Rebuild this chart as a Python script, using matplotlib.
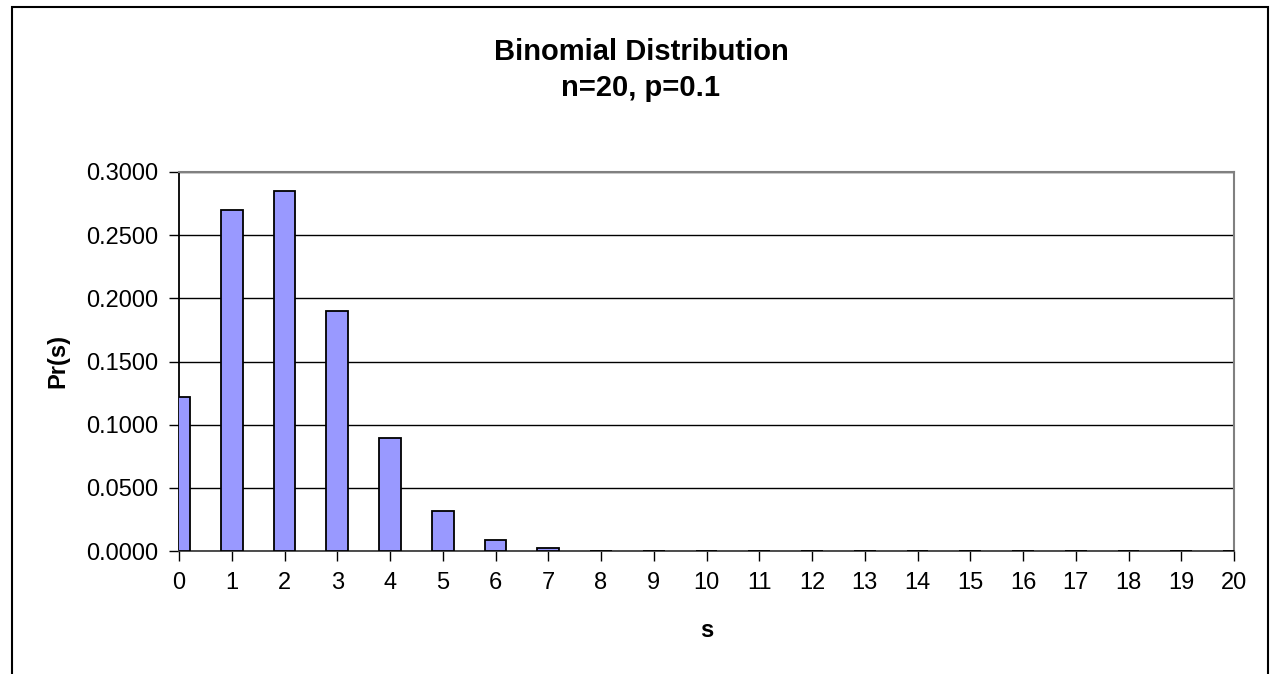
import matplotlib
matplotlib.use("Agg")
import matplotlib.pyplot as plt
import matplotlib.patches as mpatches

plt.rcParams["font.family"] = ["Liberation Sans", "DejaVu Sans"]

# Pr(s) for s = 0..20
s_values = list(range(21))
probs = [0.1216, 0.2702, 0.2852, 0.1901, 0.0898, 0.0319, 0.0089, 0.0020,
         0.0000, 0.0000, 0.0000, 0.0000, 0.0000, 0.0000, 0.0000, 0.0000,
         0.0000, 0.0000, 0.0000, 0.0000, 0.0000]
y_ticks = [0.0, 0.05, 0.10, 0.15, 0.20, 0.25, 0.30]

BAR_COLOR = "#9999FF"

fig = plt.figure(figsize=(12.71, 6.74), dpi=100)
fig.patch.set_facecolor("white")

# outer chart frame (bottom edge runs off the image)
frame = mpatches.Rectangle((12 / 1271, -0.05), (1268 - 12) / 1271, 1.05 - 7 / 674,
                           transform=fig.transFigure, fill=False,
                           edgecolor="black", linewidth=1.5)
fig.patches.append(frame)

ax = fig.add_axes([179 / 1271, 1 - 551 / 674, (1234 - 179) / 1271, (551 - 172) / 674])

ax.bar(s_values, probs, width=0.41, color=BAR_COLOR, edgecolor="black",
       linewidth=1.3, zorder=3, clip_on=True)

ax.set_xlim(0, 20)
ax.set_ylim(0, 0.3)
ax.set_yticks(y_ticks)
ax.set_yticklabels([f"{v:.4f}" for v in y_ticks])
ax.set_xticks(s_values)
ax.set_xticklabels([str(s) for s in s_values])

ax.yaxis.grid(True, color="black", linewidth=1.0, zorder=0)
ax.set_axisbelow(True)

ax.tick_params(axis="both", direction="out", length=7, width=1.0,
               labelsize=17, colors="black", pad=8)

for side in ("top", "right"):
    ax.spines[side].set_color("#808080")
    ax.spines[side].set_linewidth(1.5)
ax.spines["left"].set_color("black")
ax.spines["bottom"].set_color("#404040")
ax.spines["left"].set_linewidth(1.3)
ax.spines["bottom"].set_linewidth(1.3)

ax.set_ylabel("Pr(s)", fontsize=17, fontweight="bold", labelpad=12)
ax.set_xlabel("s", fontsize=17, fontweight="bold", labelpad=18)

# titles are centred on the whole chart, not on the plot area
fig.text(641 / 1271, 1 - 52 / 674, "Binomial Distribution",
         ha="center", va="center", fontsize=21, fontweight="bold")
fig.text(641 / 1271, 1 - 88 / 674, "n=20, p=0.1",
         ha="center", va="center", fontsize=21, fontweight="bold")

fig.savefig("out.png", dpi=100)
plt.close(fig)
